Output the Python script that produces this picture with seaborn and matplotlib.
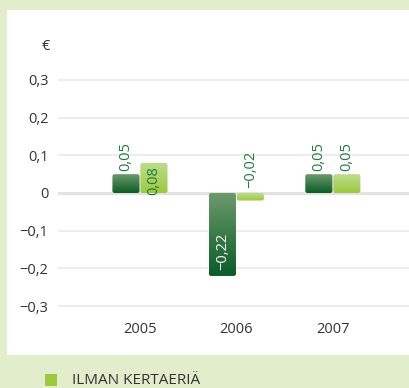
import numpy as np
import pandas as pd
import matplotlib
matplotlib.use("Agg")
import matplotlib.pyplot as plt
from matplotlib.patches import FancyBboxPatch, Rectangle
from matplotlib.colors import LinearSegmentedColormap
import seaborn as sns

# Earnings per share, EUR
years = ["2005", "2006", "2007"]
reported = [0.05, -0.22, 0.05]
excluding_one_offs = [0.08, -0.02, 0.05]
series_names = ["RAPORTOITU", "ILMAN KERTAERIÄ"]
y_ticks = [-0.3, -0.2, -0.1, 0.0, 0.1, 0.2, 0.3]

df = pd.DataFrame({
    "vuosi": years * 2,
    "eur": reported + excluding_one_offs,
    "sarja": [series_names[0]] * 3 + [series_names[1]] * 3,
})

sns.set_theme(style="white")
plt.rcParams["font.family"] = ["Open Sans", "DejaVu Sans"]

BG = "#e2edcb"
TXT = "#333333"
LABEL_GREEN = "#1e7b3c"
FS = 10.5
dark_grad = LinearSegmentedColormap.from_list("dark", ["#0a5c27", "#6c9a6d"])
light_grad = LinearSegmentedColormap.from_list("light", ["#9cc83d", "#bedd90"])

fig = plt.figure(figsize=(4.09, 3.88), dpi=100, facecolor=BG)
W, H = 409, 388

# white panel behind the chart
fig.patches.append(Rectangle((7 / W, 1 - 355 / H), 1 - 7 / W, (355 - 10) / H,
                             transform=fig.transFigure, facecolor="white",
                             edgecolor="none", zorder=-5))

ymin, ymax = -0.33, 0.33
px_per_unit = 377.0
y0_px = 193
ax_top = y0_px - ymax * px_per_unit
ax_bot = y0_px - ymin * px_per_unit
ax = fig.add_axes([58 / W, 1 - ax_bot / H, 1 - 58 / W, (ax_bot - ax_top) / H])
ax.set_facecolor("none")
ax.set_zorder(2)

sns.barplot(data=df, x="vuosi", y="eur", hue="sarja", order=years,
            hue_order=series_names, width=0.58, gap=0.03,
            palette=["#2f7a44", "#a6cf55"], ax=ax, legend=False,
            errorbar=None)

ax.set_xlim(-0.85, 2.79)
ax.set_ylim(ymin, ymax)
ax.set_yticks(y_ticks)
ax.set_yticklabels([("0" if abs(t) < 1e-9 else f"{t:.1f}".replace(".", ",").replace("-", "\u2212"))
                    for t in y_ticks])
ax.tick_params(axis="y", length=0, pad=7, labelsize=FS, labelcolor=TXT)
ax.tick_params(axis="x", length=0, pad=3, labelsize=FS, labelcolor=TXT)
ax.set_xlabel("")
ax.set_ylabel("")
for s in ax.spines.values():
    s.set_visible(False)
for t in y_ticks:
    if abs(t) < 1e-9:
        ax.axhline(t, color="#e3e3e3", lw=2.2, zorder=0.5)
    else:
        ax.axhline(t, color="#ededed", lw=1.4, zorder=0.5)

# x/y unit sizes in pixels for rounded corners
x_px = (W - 58) / (2.79 + 0.85)
y_px = px_per_unit
rad_px = 2.2

patches = list(ax.patches)
for i, p in enumerate(patches):
    series = i // 3
    val = p.get_height()
    x, w = p.get_x(), p.get_width()
    y_lo, y_hi = min(0, val), max(0, val)
    p.set_visible(False)
    cmap = dark_grad if series == 0 else light_grad
    clip = FancyBboxPatch((x, y_lo), w, y_hi - y_lo,
                          boxstyle=f"round,pad=0,rounding_size={rad_px / x_px}",
                          mutation_aspect=x_px / y_px,
                          transform=ax.transData, facecolor="none",
                          edgecolor="none")
    ax.add_patch(clip)
    grad = np.linspace(0, 1, 128).reshape(-1, 1)
    im = ax.imshow(grad, cmap=cmap, origin="lower", aspect="auto",
                   extent=(x, x + w, y_lo, y_hi), zorder=2,
                   interpolation="bilinear")
    im.set_clip_path(clip)

    label = f"{val:.2f}".replace(".", ",").replace("-", "\u2212")
    cx = x + w / 2
    if val >= 0 and val < 0.07:
        ax.text(cx, val + 3 / y_px, label, rotation=90, ha="center",
                va="bottom", fontsize=FS, color=LABEL_GREEN, zorder=3)
    elif val >= 0.07:
        ax.text(cx, val - 3 / y_px, label, rotation=90, ha="center",
                va="top", fontsize=FS, color=LABEL_GREEN, zorder=3)
    elif val > -0.1:
        ax.text(cx, 5 / y_px, label, rotation=90, ha="center",
                va="bottom", fontsize=FS, color=LABEL_GREEN, zorder=3)
    else:
        ax.text(cx, val + 6 / y_px, label, rotation=90, ha="center",
                va="bottom", fontsize=FS, color="white", zorder=3)

ax.set_xlim(-0.85, 2.79)
ax.set_ylim(ymin, ymax)

# unit marker above the axis
fig.text(50 / W, 1 - 46 / H, "€", ha="right", va="center", fontsize=FS,
         color=TXT)

# legend entry
fig.patches.append(Rectangle((45 / W, 1 - 386 / H), 12 / W, 12 / H,
                             transform=fig.transFigure, facecolor="#9cc83d",
                             edgecolor="none"))
fig.text(72 / W, 1 - 381 / H, series_names[1], ha="left", va="center",
         fontsize=11, color=TXT)

fig.savefig("out.png", dpi=100, facecolor=BG)
